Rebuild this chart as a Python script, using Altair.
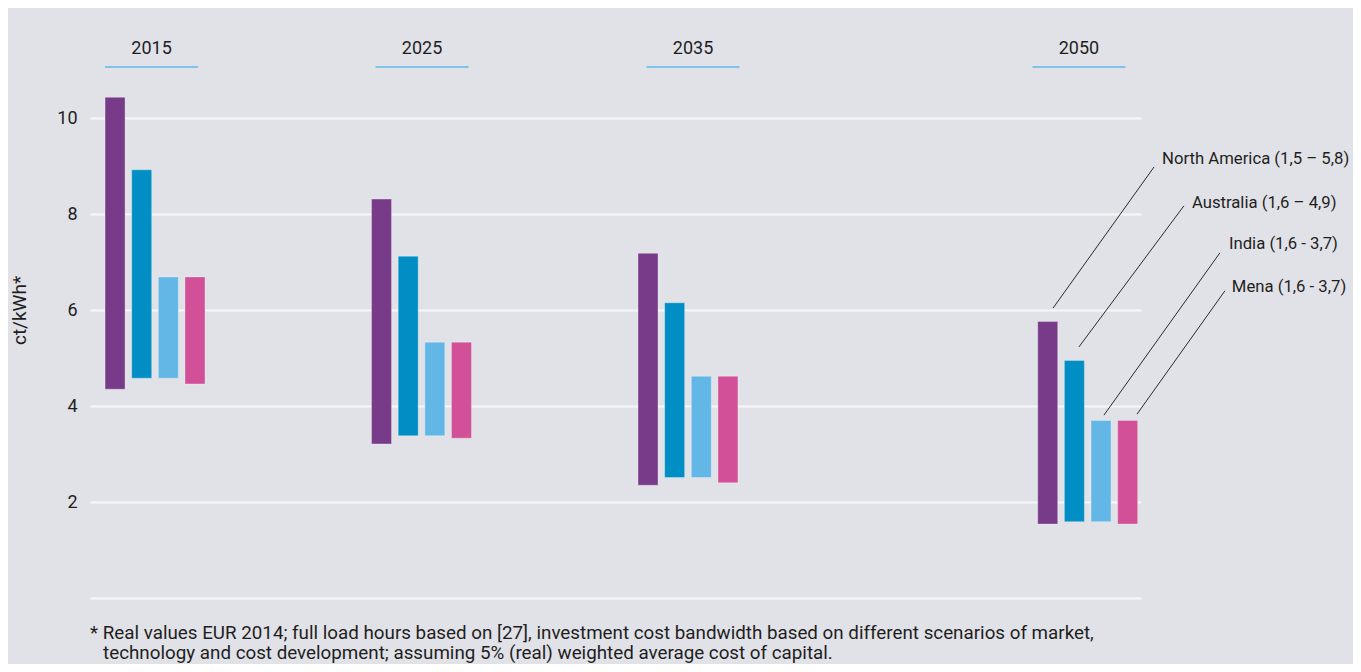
import altair as alt
import pandas as pd

# ---------------- data ----------------
years = [2015, 2025, 2035, 2050]
regions = ["North America", "Australia", "India", "Mena"]
colors = ["#783b89", "#008ec4", "#62b7e7", "#d15097"]
bar_offsets = [-1.5, -0.5, 0.5, 1.5]   # position of each region's bar inside a year group (years)
bar_half = 0.375                        # half bar width in years

low = {
    "North America": [4.35, 3.21, 2.35, 1.54],
    "Australia":     [4.58, 3.38, 2.51, 1.59],
    "India":         [4.58, 3.38, 2.51, 1.59],
    "Mena":          [4.46, 3.33, 2.40, 1.54],
}
high = {
    "North America": [10.43, 8.31, 7.18, 5.76],
    "Australia":     [8.92, 7.12, 6.15, 4.95],
    "India":         [6.69, 5.33, 4.62, 3.70],
    "Mena":          [6.69, 5.33, 4.62, 3.70],
}

year_label_x = [2014.87, 2025.02, 2035.19, 2049.67]
year_label_text = ["2015", "2025", "2035", "2050"]
year_label_y = 11.44
underline_y = 11.06
underline_half = 1.745

ann_text = ["North America (1,5 – 5,8)", "Australia (1,6 – 4,9)",
            "India (1,6 - 3,7)", "Mena (1,6 - 3,7)"]
ann_x1 = [2048.70, 2049.67, 2050.61, 2051.85]
ann_y1 = [6.04, 5.23, 3.81, 3.83]
ann_x2 = [2052.49, 2053.61, 2054.96, 2055.15]
ann_y2 = [8.98, 8.17, 7.19, 6.40]
ann_lx = [2052.79, 2053.91, 2055.30, 2055.41]
ann_ly = [9.15, 8.23, 7.375, 6.48]

foot_text = [
    "* Real values EUR 2014; full load hours based on [27], investment cost bandwidth based on different scenarios of market,",
    "technology and cost development; assuming 5% (real) weighted average cost of capital.",
]
foot_x = [2012.56, 2013.05]
foot_y = [-0.72, -1.15]

x_domain = [2012.56, 2052.0]
y_domain = [0, 12]

FONT = "Roboto"
TXT = "#1e1e1e"

# ---------------- tables ----------------
rows = []
for r, off in zip(regions, bar_offsets):
    for i, yr in enumerate(years):
        rows.append({"region": r, "year": yr,
                     "x": yr + off - bar_half, "x2": yr + off + bar_half,
                     "lo": low[r][i], "hi": high[r][i]})
bars_df = pd.DataFrame(rows)

ylab_df = pd.DataFrame({"x": year_label_x, "t": year_label_text,
                        "y": [year_label_y] * 4})
uline_df = pd.DataFrame({"x": [v - underline_half for v in year_label_x],
                         "x2": [v + underline_half for v in year_label_x],
                         "y": [underline_y] * 4})
ann_df = pd.DataFrame({"t": ann_text, "x1": ann_x1, "y1": ann_y1,
                       "x2": ann_x2, "y2": ann_y2, "lx": ann_lx, "ly": ann_ly})
foot_df = pd.DataFrame({"t": foot_text, "x": foot_x, "y": foot_y})

xs = alt.Scale(domain=x_domain, nice=False, zero=False)
ys = alt.Scale(domain=y_domain, nice=False, zero=False)

bars = alt.Chart(bars_df).mark_rect(stroke="white", strokeOpacity=0.3, strokeWidth=1).encode(
    x=alt.X("x:Q", scale=xs, axis=None),
    x2="x2:Q",
    y=alt.Y("lo:Q", scale=ys, title="ct/kWh*",
            axis=alt.Axis(values=[0, 2, 4, 6, 8, 10],
                          labelExpr="datum.value == 0 ? '' : datum.label",
                          grid=True, gridColor="#f7f7f9", gridWidth=2,
                          domain=False, ticks=False, labelPadding=13,
                          labelFont=FONT, labelFontSize=18, labelColor=TXT,
                          titleFont=FONT, titleFontSize=19, titleFontWeight="normal",
                          titleColor=TXT, titleAngle=-90, titleX=-71, titleY=288,
                          titleAlign="center", titleBaseline="middle")),
    y2="hi:Q",
    color=alt.Color("region:N", scale=alt.Scale(domain=regions, range=colors), legend=None),
)

year_text = alt.Chart(ylab_df).mark_text(font=FONT, fontSize=18, color=TXT,
                                         align="center", baseline="middle").encode(
    x=alt.X("x:Q", scale=xs), y=alt.Y("y:Q", scale=ys), text="t:N")

underline = alt.Chart(uline_df).mark_rule(color="#7fc3e8", strokeWidth=2).encode(
    x=alt.X("x:Q", scale=xs), x2="x2:Q", y=alt.Y("y:Q", scale=ys))

leaders = alt.Chart(ann_df).mark_rule(color="#2a2a2a", strokeWidth=1).encode(
    x=alt.X("x1:Q", scale=xs), x2="x2:Q",
    y=alt.Y("y1:Q", scale=ys), y2="y2:Q")

ann_labels = alt.Chart(ann_df).mark_text(font=FONT, fontSize=16.7, color=TXT,
                                         align="left", baseline="middle").encode(
    x=alt.X("lx:Q", scale=xs), y=alt.Y("ly:Q", scale=ys), text="t:N")

foot = alt.Chart(foot_df).mark_text(font=FONT, fontSize=18.8, color=TXT,
                                    align="left", baseline="middle").encode(
    x=alt.X("x:Q", scale=xs), y=alt.Y("y:Q", scale=ys), text="t:N")

chart = alt.layer(bars, underline, year_text, leaders, ann_labels, foot).properties(
    width=1051, height=576,
    autosize=alt.AutoSizeParams(type="none"),
    padding={"left": 82, "top": 14, "right": 212, "bottom": 66},
    background="#e1e2e7",
).configure_view(stroke=None)

chart.save("out.html", embed_options={"renderer": "svg", "actions": False})
